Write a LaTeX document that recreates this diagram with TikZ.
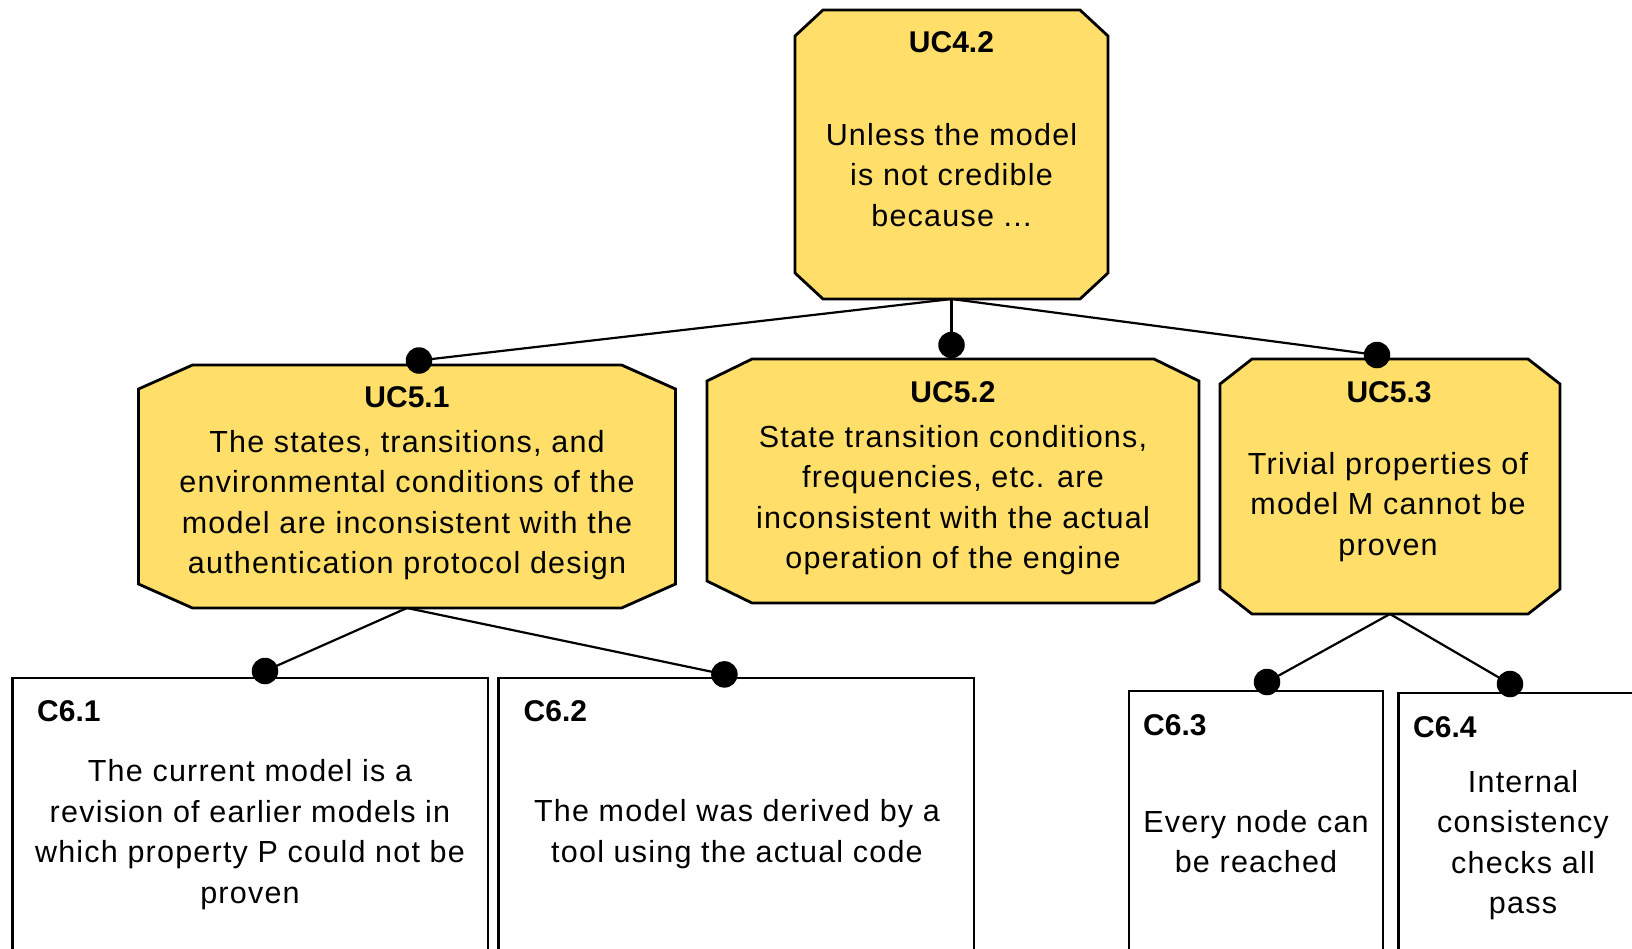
\documentclass[tikz,border=0pt]{standalone}
\usepackage{fontspec}
\setmainfont{Liberation Sans}
\newfontfamily\bodyfont[LetterSpace=4]{Liberation Sans}
\usetikzlibrary{calc}
\definecolor{gsnyellow}{HTML}{FFDE69}
\tikzset{
  frame/.style={draw=none, rectangle, inner sep=0pt, outer sep=0pt},
  octo/.style={draw=black, line width=2.8pt, fill=gsnyellow, line join=miter},
  cbox/.style={draw=black, line width=2.8pt, fill=white, rectangle, inner sep=0pt, outer sep=0pt},
  title/.style={font=\fontsize{30}{36}\selectfont\bfseries, inner sep=0pt},
  body/.style={font=\bodyfont\fontsize{30.5}{40.5}\selectfont, align=center, inner sep=0pt},
  dot/.style={circle, fill=black, minimum size=26.5pt, inner sep=0pt},
  link/.style={draw=black, line width=2.2pt},
}
\newcommand\octagon[3]{%
  \path[octo] ([xshift=#2]#1.north west) -- ([xshift=-#2]#1.north east)
    -- ([yshift=-#3]#1.north east) -- ([yshift=#3]#1.south east)
    -- ([xshift=-#2]#1.south east) -- ([xshift=#2]#1.south west)
    -- ([yshift=#3]#1.south west) -- ([yshift=-#3]#1.north west) -- cycle;}
\begin{document}
\begin{tikzpicture}[x=1pt,y=-1pt]
\clip (0,0) rectangle (1632,948);
\fill[white] (0,0) rectangle (1632,948);
% top goal
\node[frame, minimum width=313pt, minimum height=289pt] (uc42) at (951.5,154.5) {};
\octagon{uc42}{28pt}{26pt}
\node[title] (uc42t) at (951.5,42) {UC4.2};
\node[body] (uc42b) at (951.5,175) {Unless the model\\is not credible\\because ...};
% second level
\node[frame, minimum width=537pt, minimum height=243pt] (uc51) at (407,486.5) {};
\octagon{uc51}{54pt}{24pt}
\node[title] (uc51t) at (407,397.5) {UC5.1};
\node[body] (uc51b) at (407,505) {The states, transitions, and\\environmental conditions of the\\model are inconsistent with the\\authentication protocol design};
\node[frame, minimum width=492pt, minimum height=244pt] (uc52) at (953,481) {};
\octagon{uc52}{45pt}{22pt}
\node[title] (uc52t) at (953,392) {UC5.2};
\node[body] (uc52b) at (953,500) {State transition conditions,\\frequencies, etc. are\\inconsistent with the actual\\operation of the engine};
\node[frame, minimum width=340pt, minimum height=255pt] (uc53) at (1390,486.5) {};
\octagon{uc53}{32pt}{25pt}
\node[title] (uc53t) at (1389,392.5) {UC5.3};
\node[body] (uc53b) at (1388,507) {Trivial properties of\\model M cannot be\\proven};
% third level
\node[cbox, anchor=north west, minimum width=475.3pt, minimum height=290pt] (c61) at (12.7,678) {};
\node[title, anchor=west] (c61t) at (37,711) {C6.1};
\node[body] (c61b) at (250,834.5) {The current model is a\\revision of earlier models in\\which property P could not be\\proven};
\node[cbox, anchor=north west, minimum width=475.5pt, minimum height=290pt] (c62) at (498.5,678) {};
\node[title, anchor=west] (c62t) at (523.5,711) {C6.2};
\node[body] (c62b) at (737,834) {The model was derived by a\\tool using the actual code};
\node[cbox, anchor=north west, minimum width=254pt, minimum height=280pt] (c63) at (1129,691) {};
\node[title, anchor=west] (c63t) at (1143,725) {C6.3};
\node[body] (c63b) at (1256,841.5) {Every node can\\be reached};
\node[cbox, anchor=north west, minimum width=247pt, minimum height=280pt] (c64) at (1398.5,693) {};
\node[title, anchor=west] (c64t) at (1413,727) {C6.4};
\node[body] (c64b) at (1523,845) {Internal\\consistency\\checks all\\pass};
% dots
\node[dot] (d51) at (419,360.5) {};
\node[dot] (d52) at (951.5,345) {};
\node[dot] (d53) at (1377,355) {};
\node[dot] (d61) at (265,671) {};
\node[dot] (d62) at (724.4,674.4) {};
\node[dot] (d63) at (1267,682) {};
\node[dot] (d64) at (1510,684) {};
% links
\draw[link] (uc42.south) -- (d51.center);
\draw[link] (uc42.south) -- (d52.center);
\draw[link] (uc42.south) -- (d53.center);
\draw[link] (uc51.south) -- (d61.center);
\draw[link] (uc51.south) -- (d62.center);
\draw[link] (uc53.south) -- (d63.center);
\draw[link] (uc53.south) -- (d64.center);
\end{tikzpicture}
\end{document}
